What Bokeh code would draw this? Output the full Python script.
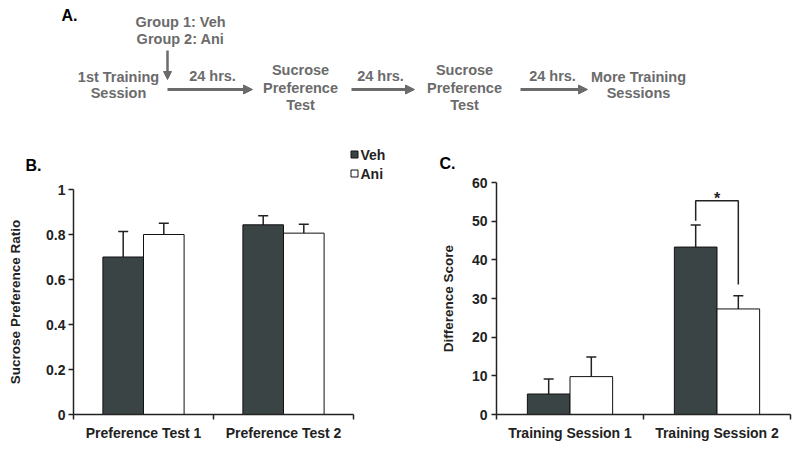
from bokeh.plotting import figure
from bokeh.models import (Range1d, FixedTicker, Whisker, ColumnDataSource, TeeHead,
                          Arrow, NormalHead)
from bokeh.layouts import column, row
from bokeh.core.properties import value
from bokeh.embed import file_html
from bokeh.resources import INLINE

# ---------------- data ----------------
groups = ["Veh", "Ani"]

categories_B = ["Preference Test 1", "Preference Test 2"]
veh_B = [0.70, 0.843]
veh_B_err = [0.113, 0.040]
ani_B = [0.80, 0.806]
ani_B_err = [0.050, 0.040]
yticks_B = [0, 0.2, 0.4, 0.6, 0.8, 1.0]
ytick_labels_B = ["0", "0.2", "0.4", "0.6", "0.8", "1"]

categories_C = ["Training Session 1", "Training Session 2"]
veh_C = [5.3, 43.3]
veh_C_err = [3.9, 5.7]
ani_C = [9.8, 27.3]
ani_C_err = [5.1, 3.4]
yticks_C = [0, 10, 20, 30, 40, 50, 60]
ytick_labels_C = ["0", "10", "20", "30", "40", "50", "60"]

# significance bracket (panel C, Training Session 2)
sig_category = 1
sig_top = 55.3
sig_left_end = 50.1
sig_right_end = 33.6
sig_text = "*"

# timeline diagram (panel A)
group_lines = ["Group 1: Veh", "Group 2: Ani"]
stage_lines = [["1st Training", "Session"],
               ["Sucrose", "Preference", "Test"],
               ["Sucrose", "Preference", "Test"],
               ["More Training", "Sessions"]]
interval_labels = ["24 hrs.", "24 hrs.", "24 hrs."]

# ---------------- style ----------------
FONT = "Liberation Sans"
DARK = "#222222"
VEH_COLOR = "#3b4445"
GRAY = "#6b6b6b"
BAR_W = 0.29
group_fill = [VEH_COLOR, "white"]


def blank(width, height, y0, y1, x0=0):
    """A figure without axes whose data space equals the page pixels."""
    p = figure(width=width, height=height, x_range=Range1d(x0, x0 + width),
               y_range=Range1d(y1, y0), x_axis_type=None, y_axis_type=None,
               toolbar_location=None, output_backend="svg", min_border=0)
    p.grid.visible = False
    p.outline_line_color = None
    return p


# ---------------- panel A ----------------
pa = blank(800, 140, 0, 140)
txt_kw = dict(text_align="center", text_baseline="middle", text_font=value(FONT),
              text_font_style="bold", text_font_size="14.5px", text_color=GRAY)
pa.text(x=[180, 180], y=[21, 38], text=group_lines, **txt_kw)
stage_x = [118, 300, 464, 638]
stage_y = {2: [76, 92], 3: [69, 87, 104]}
xs, ys, ts = [], [], []
for sx, lines in zip(stage_x, stage_lines):
    for yy, t in zip(stage_y[len(lines)], lines):
        xs.append(sx); ys.append(yy); ts.append(t)
pa.text(x=xs, y=ys, text=ts, **txt_kw)
interval_x = [212, 380, 552]
pa.text(x=interval_x, y=[75] * 3, text=interval_labels, **txt_kw)
arrow_spans = [(167, 252), (351, 414), (520, 587)]
for x0, x1 in arrow_spans:
    pa.add_layout(Arrow(end=NormalHead(size=9, fill_color=GRAY, line_color=GRAY, line_width=1),
                        x_start=x0, y_start=89, x_end=x1, y_end=89,
                        line_color=GRAY, line_width=3))
pa.add_layout(Arrow(end=NormalHead(size=8, fill_color=GRAY, line_color=GRAY, line_width=1),
                    x_start=167, y_start=50, x_end=167, y_end=79,
                    line_color=GRAY, line_width=2.5))
panel_kw = dict(text_align="left", text_baseline="middle", text_font=value(FONT),
                text_font_style="bold", text_font_size="16px", text_color="#000000")
pa.text(x=[61], y=[15], text=["A."], **panel_kw)

# ---------------- strips above panels B and C ----------------
strip_b = blank(400, 41, 140, 181)
strip_b.text(x=[25], y=[165], text=["B."], **panel_kw)
leg_y = [154, 173]
strip_b.rect(x=[354] * 2, y=leg_y, width=7, height=7, fill_color=group_fill,
             line_color="#111111", line_width=1)
strip_b.text(x=[360] * 2, y=leg_y, text=groups, text_align="left", text_baseline="middle",
             text_font=value(FONT), text_font_style="bold", text_font_size="14px",
             text_color=DARK)

strip_c = blank(400, 33, 140, 173, x0=400)
strip_c.text(x=[439], y=[163], text=["C."], **panel_kw)


def bar_panel(cats, veh, veh_err, ani, ani_err, ytop, yticks, ylabels, ylabel,
              height, borders, label_standoff, tick_standoff):
    n = len(cats)
    centers = [i + 0.5 for i in range(n)]
    left, right, top, bottom = borders
    p = figure(width=400, height=height, x_range=Range1d(0, n), y_range=Range1d(0, ytop),
               toolbar_location=None, output_backend="svg",
               min_border_left=left, min_border_right=right,
               min_border_top=top, min_border_bottom=bottom)
    p.grid.visible = False
    p.outline_line_color = None
    p.background_fill_color = "white"

    veh_x = [c - BAR_W / 2 for c in centers]
    ani_x = [c + BAR_W / 2 for c in centers]
    src_v = ColumnDataSource(dict(x=veh_x, top=veh,
                                  lo=[v - e for v, e in zip(veh, veh_err)],
                                  hi=[v + e for v, e in zip(veh, veh_err)]))
    src_a = ColumnDataSource(dict(x=ani_x, top=ani,
                                  lo=[v - e for v, e in zip(ani, ani_err)],
                                  hi=[v + e for v, e in zip(ani, ani_err)]))
    p.vbar(x="x", top="top", width=BAR_W, bottom=0, source=src_v,
           fill_color=group_fill[0], line_color="#111111", line_width=1)
    p.vbar(x="x", top="top", width=BAR_W, bottom=0, source=src_a,
           fill_color=group_fill[1], line_color="#111111", line_width=1)
    for src in (src_v, src_a):
        p.add_layout(Whisker(source=src, base="x", upper="hi", lower="lo",
                             line_color=DARK, line_width=1.5,
                             upper_head=TeeHead(size=10, line_color=DARK, line_width=1.5),
                             lower_head=TeeHead(size=10, line_color=DARK, line_width=1.5)))

    xa = p.xaxis[0]
    xa.ticker = FixedTicker(ticks=centers, minor_ticks=[float(i) for i in range(n + 1)])
    xa.major_label_overrides = {c: t for c, t in zip(centers, cats)}
    xa.major_tick_out = 0
    xa.major_tick_in = 0
    xa.minor_tick_out = 5
    xa.minor_tick_in = 0
    xa.major_label_standoff = 5
    ya = p.yaxis[0]
    ya.ticker = FixedTicker(ticks=yticks)
    ya.major_label_overrides = {t: l for t, l in zip(yticks, ylabels)}
    ya.major_tick_out = 5
    ya.major_tick_in = 0
    ya.minor_tick_out = 0
    ya.minor_tick_in = 0
    ya.major_label_standoff = tick_standoff
    ya.axis_label = ylabel
    ya.axis_label_standoff = label_standoff
    for ax in (xa, ya):
        ax.axis_line_color = DARK
        ax.axis_line_width = 1.5
        ax.major_tick_line_color = DARK
        ax.major_tick_line_width = 1.5
        ax.minor_tick_line_color = DARK
        ax.minor_tick_line_width = 1.5
        ax.major_label_text_font = FONT
        ax.major_label_text_font_style = "bold"
        ax.major_label_text_font_size = "14px"
        ax.major_label_text_color = DARK
        ax.axis_label_text_font = FONT
        ax.axis_label_text_font_style = "bold"
        ax.axis_label_text_font_size = "13.5px"
        ax.axis_label_text_color = DARK
    return p, veh_x, ani_x


pb, _, _ = bar_panel(categories_B, veh_B, veh_B_err, ani_B, ani_B_err, 1.0,
                     yticks_B, ytick_labels_B, "Sucrose Preference Ratio",
                     269, (73, 47, 8, 36), 20, 3)

pc, vx, ax_ = bar_panel(categories_C, veh_C, veh_C_err, ani_C, ani_C_err, 60,
                        yticks_C, ytick_labels_C, "Difference Score",
                        277, (96, 10, 9, 36), 13, 4)
bx0 = vx[sig_category]
bx1 = ax_[sig_category]
pc.line(x=[bx0, bx0, bx1, bx1], y=[sig_left_end, sig_top, sig_top, sig_right_end],
        line_color=DARK, line_width=1.5)
pc.text(x=[(bx0 + bx1) / 2], y=[sig_top + 0.6], text=[sig_text], text_align="center",
        text_baseline="alphabetic", text_font=value(FONT), text_font_style="bold",
        text_font_size="16px", text_color=DARK)

col_b = column(strip_b, row(pb, spacing=0), spacing=0)
col_c = column(strip_c, row(pc, spacing=0), spacing=0)
layout = column(pa, row(col_b, col_c, spacing=0), spacing=0)
open("out.html", "w").write(file_html(layout, INLINE))
